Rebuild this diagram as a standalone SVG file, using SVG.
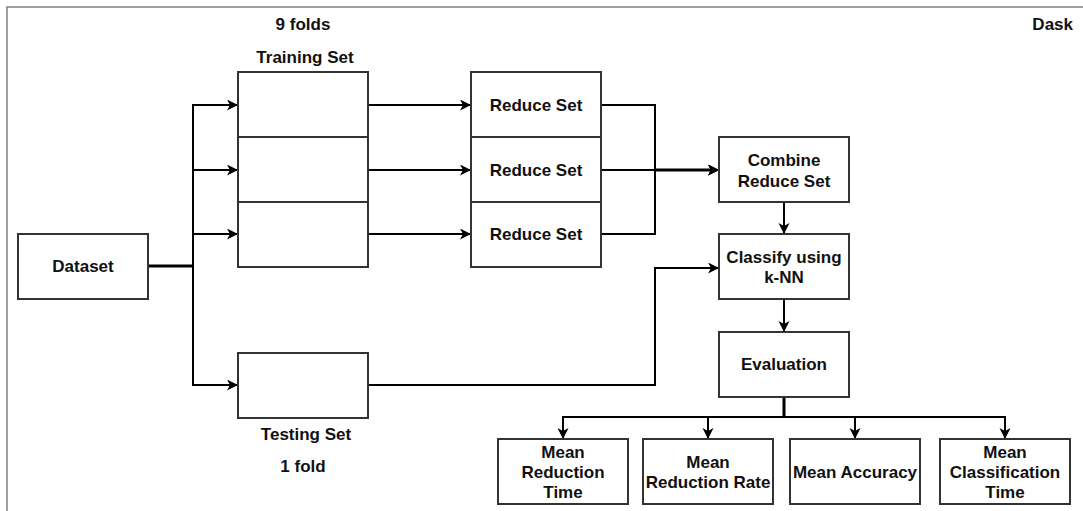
<svg xmlns="http://www.w3.org/2000/svg" width="1083" height="511" viewBox="0 0 1083 511">
  <defs>
    <marker id="arrow" markerUnits="userSpaceOnUse" markerWidth="12" markerHeight="12" refX="11" refY="5.5" orient="auto">
      <path d="M0,0 L11,5.5 L0,11 L3,5.5 Z" fill="#000"/>
    </marker>
    <style>
      .box { fill: #fff; stroke: #333; stroke-width: 2; }
      .edge { fill: none; stroke: #000; stroke-width: 2; marker-end: url(#arrow); }
      .lbl { font-family: "Liberation Sans", Arial, sans-serif; font-weight: bold; font-size: 17px; fill: #111; text-anchor: middle; }
      .frame { fill: none; stroke: #808080; stroke-width: 1.5; }
    </style>
  </defs>

  <rect width="1083" height="511" fill="#fff"/>

  <!-- Dask cluster boundary (runs off the right and bottom) -->
  <rect class="frame" x="7" y="7" width="1100" height="520"/>
  <text class="lbl" x="1073" y="30" style="text-anchor:end">Dask</text>

  <!-- connectors -->
  <g id="connectors">
    <path class="edge" d="M148,266 H193 V105 H238"/>
    <path class="edge" d="M148,266 H193 V170 H238"/>
    <path class="edge" d="M148,266 H193 V234 H238"/>
    <path class="edge" d="M148,266 H193 V385 H238"/>
    <path class="edge" d="M368,105 H471"/>
    <path class="edge" d="M368,170 H471"/>
    <path class="edge" d="M368,234 H471"/>
    <path class="edge" d="M601,105 H655 V170 H719"/>
    <path class="edge" d="M601,170 H719"/>
    <path class="edge" d="M601,234 H655 V170 H719"/>
    <path class="edge" d="M784,202 V234"/>
    <path class="edge" d="M368,385 H655 V268 H719"/>
    <path class="edge" d="M784,299 V332"/>
    <path class="edge" d="M784,397 V417 H563 V439"/>
    <path class="edge" d="M784,397 V417 H708 V439"/>
    <path class="edge" d="M784,397 V417 H855 V439"/>
    <path class="edge" d="M784,397 V417 H1005 V439"/>
    <!-- shared trunks -->
    <path d="M148,266 H193 M655,170 H712 M784,397 V417" stroke="#000" stroke-width="3" fill="none"/>
  </g>

  <g id="dataset">
    <rect class="box" x="18" y="234" width="130" height="65"/>
    <text class="lbl" x="83" y="272">Dataset</text>
  </g>

  <g id="training-set">
    <text class="lbl" x="303" y="30">9 folds</text>
    <text class="lbl" x="305" y="63">Training Set</text>
    <rect class="box" x="238" y="72" width="130" height="65"/>
    <rect class="box" x="238" y="137" width="130" height="65"/>
    <rect class="box" x="238" y="202" width="130" height="65"/>
  </g>

  <g id="testing-set">
    <rect class="box" x="238" y="353" width="130" height="65"/>
    <text class="lbl" x="306" y="440">Testing Set</text>
    <text class="lbl" x="303" y="472">1 fold</text>
  </g>

  <g id="reduce-1">
    <rect class="box" x="471" y="72" width="130" height="65"/>
    <text class="lbl" x="536" y="111">Reduce Set</text>
  </g>
  <g id="reduce-2">
    <rect class="box" x="471" y="137" width="130" height="65"/>
    <text class="lbl" x="536" y="176">Reduce Set</text>
  </g>
  <g id="reduce-3">
    <rect class="box" x="471" y="202" width="130" height="65"/>
    <text class="lbl" x="536" y="240">Reduce Set</text>
  </g>

  <g id="combine">
    <rect class="box" x="719" y="137" width="130" height="65"/>
    <text class="lbl" x="784" y="166">Combine</text>
    <text class="lbl" x="784" y="187">Reduce Set</text>
  </g>

  <g id="classify">
    <rect class="box" x="719" y="234" width="130" height="65"/>
    <text class="lbl" x="784" y="263">Classify using</text>
    <text class="lbl" x="784" y="283">k-NN</text>
  </g>

  <g id="evaluation">
    <rect class="box" x="719" y="332" width="130" height="65"/>
    <text class="lbl" x="784" y="370">Evaluation</text>
  </g>

  <g id="mean-reduction-time">
    <rect class="box" x="498" y="439" width="130" height="65"/>
    <text class="lbl" x="563" y="458">Mean</text>
    <text class="lbl" x="563" y="478">Reduction</text>
    <text class="lbl" x="563" y="498">Time</text>
  </g>

  <g id="mean-reduction-rate">
    <rect class="box" x="643" y="439" width="130" height="65"/>
    <text class="lbl" x="708" y="468">Mean</text>
    <text class="lbl" x="708" y="488">Reduction Rate</text>
  </g>

  <g id="mean-accuracy">
    <rect class="box" x="790" y="439" width="130" height="65"/>
    <text class="lbl" x="855" y="478">Mean Accuracy</text>
  </g>

  <g id="mean-classification-time">
    <rect class="box" x="940" y="439" width="130" height="65"/>
    <text class="lbl" x="1005" y="458">Mean</text>
    <text class="lbl" x="1005" y="478">Classification</text>
    <text class="lbl" x="1005" y="498">Time</text>
  </g>
</svg>
